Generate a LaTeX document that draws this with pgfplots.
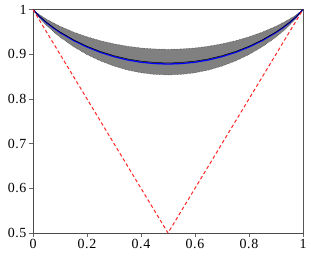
\documentclass[border=0pt]{standalone}
\usepackage{pgfplots}
\pgfplotsset{compat=1.18}
\usepackage{pgfplotstable}
\usepackage{fontspec}
\setmainfont{Liberation Serif}
\newfontfamily\tickfont[LetterSpace=4]{Liberation Serif}
\newcommand\tl[1]{\mbox{\fontsize{14}{16}\selectfont\tickfont #1}}
\pgfplotstableread{
x mean upper lower blk
0 1 1 1 1
0.025 0.9837 0.9881 0.9804 0.9840
0.05 0.9705 0.9785 0.9646 0.9711
0.075 0.9590 0.9701 0.9508 0.9598
0.1 0.9486 0.9625 0.9383 0.9496
0.15 0.9308 0.9495 0.9170 0.9322
0.2 0.9161 0.9388 0.8993 0.9178
0.25 0.9041 0.9300 0.8849 0.9060
0.3 0.8946 0.9231 0.8735 0.8967
0.35 0.8872 0.9177 0.8646 0.8895
0.4 0.8821 0.9139 0.8585 0.8845
0.45 0.8791 0.9117 0.8549 0.8815
0.5 0.8780 0.9109 0.8536 0.8804
0.55 0.8791 0.9117 0.8549 0.8815
0.6 0.8821 0.9139 0.8585 0.8845
0.65 0.8872 0.9177 0.8646 0.8895
0.7 0.8946 0.9231 0.8735 0.8967
0.75 0.9041 0.9300 0.8849 0.9060
0.8 0.9161 0.9388 0.8993 0.9178
0.85 0.9308 0.9495 0.9170 0.9322
0.9 0.9486 0.9625 0.9383 0.9496
0.925 0.9590 0.9701 0.9508 0.9598
0.95 0.9705 0.9785 0.9646 0.9711
0.975 0.9837 0.9881 0.9804 0.9840
1 1 1 1 1
}\band
\begin{document}
\begin{tikzpicture}
\begin{axis}[
  scale only axis, width=270bp, height=223.5bp,
  xmin=0, xmax=1, ymin=0.5, ymax=1,
  xtick={0,0.2,0.4,0.6,0.8,1}, ytick={0.5,0.6,0.7,0.8,0.9,1},
  xticklabels={\tl{0},\tl{0.2},\tl{0.4},\tl{0.6},\tl{0.8},\tl{1}},
  yticklabels={\tl{0.5},\tl{0.6},\tl{0.7},\tl{0.8},\tl{0.9},\tl{1}},
  tick align=outside, xtick pos=left, ytick pos=left,
  major tick length=4bp,
  tick style={black!60, line width=0.6pt},
  axis line style={black!70, line width=0.6pt},
  xticklabel style={text height=9bp, yshift=1bp},
  yticklabel style={xshift=1bp},
]
\addplot[fill=gray, draw=none] coordinates {
(0,1) (0.025,0.9881) (0.05,0.9785) (0.075,0.9701) (0.1,0.9625) (0.15,0.9495) (0.2,0.9388) (0.25,0.9300) (0.3,0.9231) (0.35,0.9177) (0.4,0.9139) (0.45,0.9117) (0.5,0.9109) (0.55,0.9117) (0.6,0.9139) (0.65,0.9177) (0.7,0.9231) (0.75,0.9300) (0.8,0.9388) (0.85,0.9495) (0.9,0.9625) (0.925,0.9701) (0.95,0.9785) (0.975,0.9881) (1,1)
(0.975,0.9804) (0.95,0.9646) (0.925,0.9508) (0.9,0.9383) (0.85,0.9170) (0.8,0.8993) (0.75,0.8849) (0.7,0.8735) (0.65,0.8646) (0.6,0.8585) (0.55,0.8549) (0.5,0.8536) (0.45,0.8549) (0.4,0.8585) (0.35,0.8646) (0.3,0.8735) (0.25,0.8849) (0.2,0.8993) (0.15,0.9170) (0.1,0.9383) (0.075,0.9508) (0.05,0.9646) (0.025,0.9804) (0,1)
} -- cycle;
\addplot[black!80, densely dotted, line width=0.5pt] table[x=x, y=upper] {\band};
\addplot[black!80, densely dotted, line width=0.5pt] table[x=x, y=lower] {\band};
\addplot[blue, line width=1.3pt] table[x=x, y=mean] {\band};
\addplot[black, line width=0.5pt] table[x=x, y=blk] {\band};
\addplot[red!85!white, dash pattern=on 3.5bp off 2.5bp, line width=1pt] coordinates {(0,1) (0.5,0.5) (1,1)};
\draw[black!35, line width=1pt] (rel axis cs:1,0) -- (rel axis cs:1,1);
\coordinate (ll) at (rel axis cs:0,0);
\coordinate (ur) at (rel axis cs:1,1);
\end{axis}
\pgfresetboundingbox
\path ([shift={(-33bp,-26bp)}]ll) rectangle ([shift={(8bp,9.5bp)}]ur);
\end{tikzpicture}
\end{document}
